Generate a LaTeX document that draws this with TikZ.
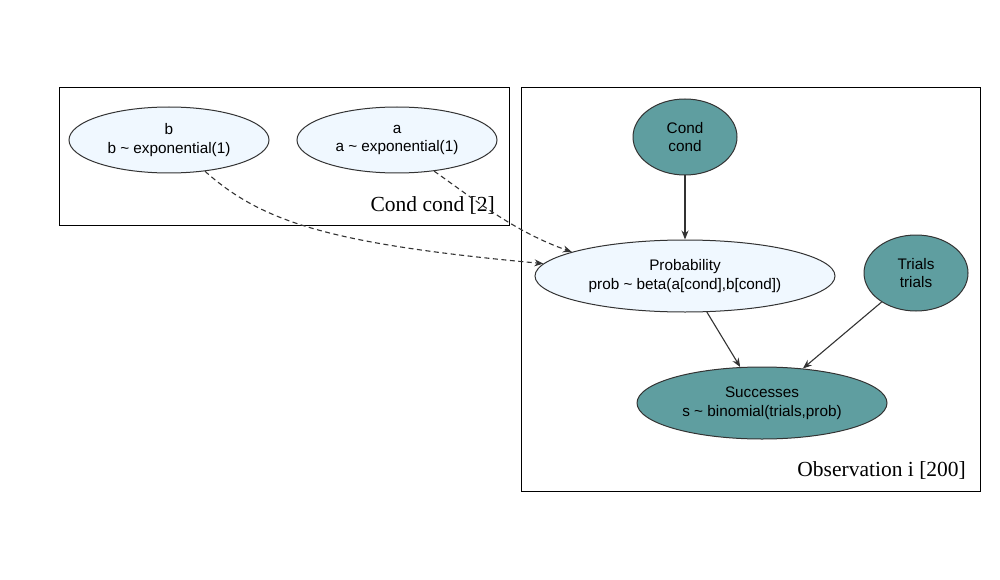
\documentclass[tikz,border=0pt]{standalone}
\usepackage{fontspec}
\setmainfont{Liberation Serif}
\newfontfamily\labfont{Liberation Sans}
\usetikzlibrary{shapes.geometric,arrows.meta}
\definecolor{lightnode}{HTML}{F0F8FF}
\definecolor{tealnode}{HTML}{5F9EA0}
\definecolor{edgegray}{HTML}{333333}
\tikzset{
  rv/.style={ellipse,draw=edgegray,line width=1pt,inner sep=0pt,align=center,
    font=\labfont\fontsize{15.3}{18.5}\selectfont},
  latentnode/.style={rv,fill=lightnode},
  obsnode/.style={rv,fill=tealnode},
  plate/.style={draw=black,line width=1pt},
  platelabel/.style={font=\fontsize{21.5}{24}\selectfont,anchor=east,inner sep=0pt},
  edge/.style={draw=edgegray,line width=1.1pt,-{Stealth[length=9pt,width=7pt]}},
  dedge/.style={edge,dash pattern=on 5pt off 3.5pt}
}
\begin{document}
\begin{tikzpicture}[x=1pt,y=-1pt]
\useasboundingbox (0,0) rectangle (1000,580);
% plates
\draw[plate] (59,88) rectangle (509,225);
\draw[plate] (521,88) rectangle (980,491);
\node[platelabel] (lab1) at (495,205) {Cond cond [2]};
\node[platelabel] (lab2) at (966,470) {Observation i [200]};
% nodes
\node[latentnode,minimum width=200pt,minimum height=66pt] (b) at (169,140) {b\\b \textasciitilde{} exponential(1)};
\node[latentnode,minimum width=200pt,minimum height=66pt] (a) at (397,140) {a\\a \textasciitilde{} exponential(1)};
\node[obsnode,minimum width=104pt,minimum height=76pt] (cond) at (685,137) {Cond\\cond};
\node[latentnode,minimum width=300pt,minimum height=72pt] (prob) at (685,276) {Probability\\prob \textasciitilde{} beta(a[cond],b[cond])};
\node[obsnode,minimum width=104pt,minimum height=76pt] (trials) at (916,273) {Trials\\trials};
\node[obsnode,minimum width=250pt,minimum height=72pt] (succ) at (762,403) {Successes\\s \textasciitilde{} binomial(trials,prob)};
% edges
\draw[edge] (cond) -- (prob);
\draw[edge] (prob) -- (succ);
\draw[edge] (trials) -- (succ);
\draw[dedge] (b.-41.6) .. controls (262,222) and (330,244) .. (prob.175);
\draw[dedge] (a.-40) .. controls (475,200) and (515,232) .. (prob.168.5);
\end{tikzpicture}
\end{document}
